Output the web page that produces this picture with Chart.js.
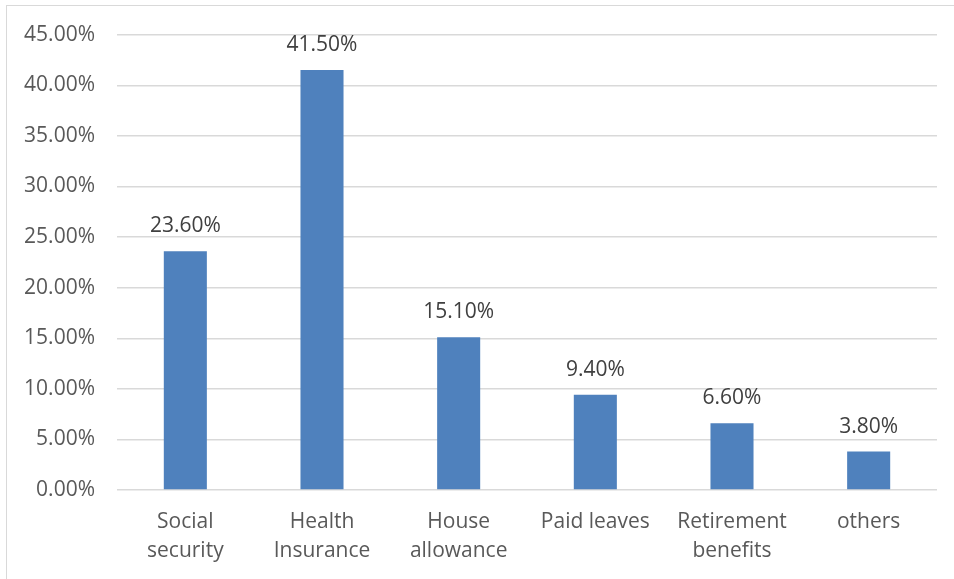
<!DOCTYPE html>
<html>
<head>
<meta charset="utf-8">
<script src="https://cdn.jsdelivr.net/npm/chart.js@4/dist/chart.umd.min.js"></script>
<style>
  html, body { margin: 0; padding: 0; background: #fff; overflow: hidden; }
  #wrap { position: relative; width: 954px; height: 579px; }
  #frame { position: absolute; left: 6px; top: 5px; width: 1000px; height: 700px; border: 1px solid #d9d9d9; box-sizing: border-box; }
  canvas { position: absolute; left: 0; top: 0; }
</style>
</head>
<body>
<div id="wrap">
  <div id="frame"></div>
  <canvas id="benefitsChart" width="954" height="579"></canvas>
</div>
<script>
// Share of respondents by benefit type (%)
const categories = [
  ['Social', 'security'],
  ['Health', 'Insurance'],
  ['House', 'allowance'],
  'Paid leaves',
  ['Retirement', 'benefits'],
  'others'
];
const shares = [23.6, 41.5, 15.1, 9.4, 6.6, 3.8];
const yMax = 45;
const yStep = 5;

const FONT = "'Open Sans', 'Liberation Sans', sans-serif";
const BAR_BLUE = '#4f81bd';
const TEXT_GRAY = '#595959';

// value labels above each bar
const barValueLabels = {
  id: 'barValueLabels',
  afterDatasetsDraw(chart) {
    const { ctx } = chart;
    const meta = chart.getDatasetMeta(0);
    ctx.save();
    ctx.font = `21px ${FONT}`;
    ctx.fillStyle = '#404040';
    ctx.textAlign = 'center';
    ctx.textBaseline = 'middle';
    meta.data.forEach((bar, i) => {
      const v = chart.data.datasets[0].data[i];
      ctx.fillText(v.toFixed(2) + '%', bar.x, bar.y - 25);
    });
    ctx.restore();
  }
};

const ctx = document.getElementById('benefitsChart').getContext('2d');
new Chart(ctx, {
  type: 'bar',
  data: {
    labels: categories,
    datasets: [{
      data: shares,
      backgroundColor: BAR_BLUE,
      borderWidth: 0,
      barPercentage: 0.315,
      categoryPercentage: 1
    }]
  },
  options: {
    responsive: false,
    animation: false,
    devicePixelRatio: 1,
    layout: { padding: { left: 0, top: 34, right: 17, bottom: 0 } },
    plugins: {
      legend: { display: false },
      tooltip: { enabled: false }
    },
    scales: {
      x: {
        grid: { display: false, drawTicks: false },
        border: { display: false },
        ticks: {
          color: TEXT_GRAY,
          font: { family: FONT, size: 21, lineHeight: 1.35 },
          padding: 18,
          maxRotation: 0,
          autoSkip: false
        },
        afterFit: (scale) => { scale.height = 89; }
      },
      y: {
        min: 0,
        max: yMax,
        grid: { color: '#d9d9d9', lineWidth: 1.4, drawTicks: false },
        border: { display: false },
        ticks: {
          stepSize: yStep,
          color: TEXT_GRAY,
          font: { family: FONT, size: 21 },
          padding: 22,
          callback: (v) => v.toFixed(2) + '%'
        },
        afterFit: (scale) => { scale.width = 117; }
      }
    }
  },
  plugins: [barValueLabels]
});
</script>
</body>
</html>
